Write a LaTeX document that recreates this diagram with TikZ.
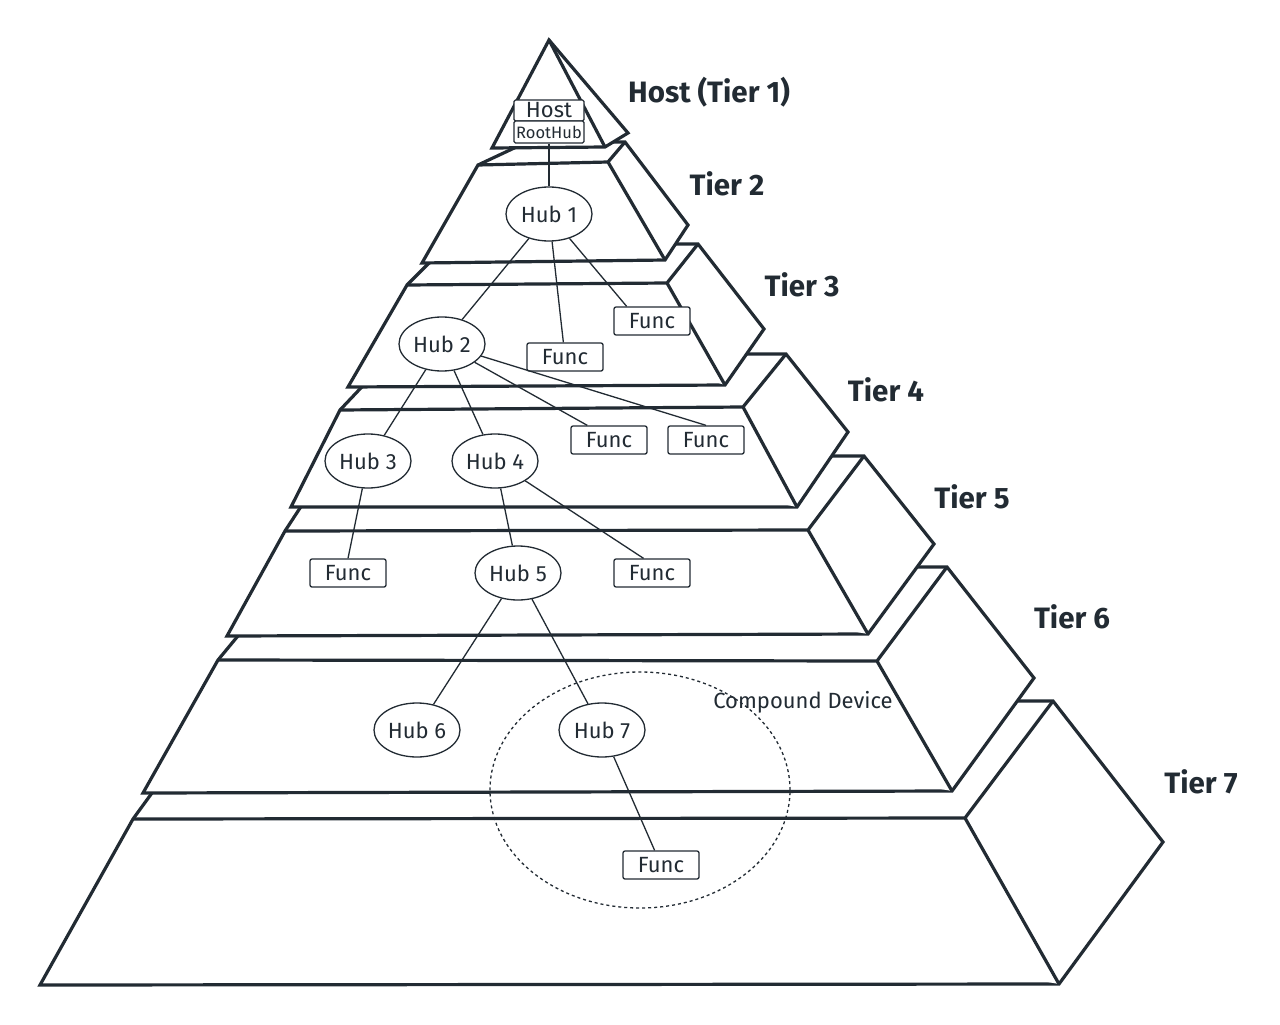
\documentclass[tikz,border=0pt]{standalone}
\usepackage{fontspec}
\setmainfont{Fira Sans}
\usetikzlibrary{shapes.geometric}
\definecolor{ink}{HTML}{222B33}
% one tier: BL, BR, TL, TR, peak, side right, back left
\newcommand{\tier}[7]{%
  \filldraw[tierline] #1 -- #2 -- #6 -- #5 -- #7 -- #3 -- cycle;
  \draw[tierline] #3 -- #4 -- #2 #4 -- #5;}
\tikzset{
  tierline/.style={draw=ink, fill=white, line width=3.2pt},
  hub/.style={ellipse, draw=ink, fill=white, line width=1.3pt, text=ink,
    minimum width=86pt, minimum height=54pt, inner sep=0pt,
    font=\fontsize{22}{26}\selectfont},
  func/.style={rectangle, rounded corners=2pt, draw=ink, fill=white, line width=1.3pt,
    text=ink, minimum width=76pt, minimum height=28pt, inner sep=0pt,
    font=\fontsize{22}{26}\selectfont},
  link/.style={draw=ink, line width=1.3pt},
  tierlabel/.style={text=ink, font=\fontsize{29.5}{34}\selectfont\bfseries},
}

\begin{document}
\begin{tikzpicture}[x=1pt, y=-1pt]
\useasboundingbox (0,0) rectangle (1280,1025);
% pyramid, bottom tier first
\tier{(40,985)}{(1059,984)}{(133,819)}{(965,818)}{(1053,701)}{(1163,842)}{(219,701)}
\tier{(143,793)}{(952,791)}{(218,660)}{(877,661)}{(947,567)}{(1034,678)}{(295,567)}
\tier{(227,636)}{(868,634)}{(285,531)}{(808,530)}{(864,456)}{(934,544)}{(334,456)}
\tier{(291,507)}{(797,507)}{(340,410)}{(743,407)}{(786,354)}{(848,432)}{(393,354)}
\tier{(348,387)}{(725,385)}{(407,285)}{(667,283)}{(698,244)}{(764,329)}{(448,244)}
\tier{(422,263)}{(665,260)}{(478,165)}{(608,162)}{(625,142)}{(688,225)}{(527,142)}
\filldraw[tierline] (492,148) -- (605,147) -- (628,133) -- (549,40) -- cycle;
\draw[tierline] (549,40) -- (605,147);
%
\node[ellipse, draw=ink, line width=1.3pt, dash pattern=on 3pt off 3pt,
  minimum width=300pt, minimum height=236pt] (device) at (640,790) {};
\node[text=ink, font=\fontsize{22}{26}\selectfont] (devicelabel) at (803,702) {Compound Device};
%
\node[func, rounded corners=1.5pt, minimum width=70pt, minimum height=21pt] (host) at (549,110.5) {Host};
\node[func, rounded corners=1.5pt, minimum width=70pt, minimum height=22pt,
  font=\fontsize{16.5}{19}\selectfont] (roothub) at (549,132) {RootHub};
\node[hub] (hub1) at (549,214) {Hub 1};
\node[hub] (hub2) at (442,344) {Hub 2};
\node[func] (func3a) at (652,321) {Func};
\node[func] (func3b) at (565,357) {Func};
\node[hub] (hub3) at (368,461) {Hub 3};
\node[hub] (hub4) at (495,461) {Hub 4};
\node[func] (func4a) at (609,440) {Func};
\node[func] (func4b) at (706,440) {Func};
\node[func] (func5a) at (348,573) {Func};
\node[hub] (hub5) at (518,573) {Hub 5};
\node[func] (func5b) at (652,573) {Func};
\node[hub] (hub6) at (417,730) {Hub 6};
\node[hub] (hub7) at (602,730) {Hub 7};
\node[func] (func7) at (661,865) {Func};
%
\draw[link] (roothub) -- (hub1);
\draw[link] (hub1) -- (hub2);
\draw[link] (hub1) -- (func3b);
\draw[link] (hub1) -- (func3a.150);
\draw[link] (hub2) -- (hub3);
\draw[link] (hub2) -- (hub4);
\draw[link] (hub2) -- (func4a.146);
\draw[link] (hub2) -- (func4b.north);
\draw[link] (hub3) -- (func5a.north);
\draw[link] (hub4) -- (hub5);
\draw[link] (hub4) -- (func5b.120);
\draw[link] (hub5) -- (hub6);
\draw[link] (hub5) -- (hub7);
\draw[link] (hub7) -- (func7);
%
\node[tierlabel] (tier1) at (709,92) {Host (Tier 1)};
\foreach \n/\x/\y in {2/727/184, 3/802/285, 4/886/390, 5/972/497, 6/1072/617, 7/1201/782}
  \node[tierlabel] (tier\n) at (\x,\y) {Tier \n};
\end{tikzpicture}
\end{document}
